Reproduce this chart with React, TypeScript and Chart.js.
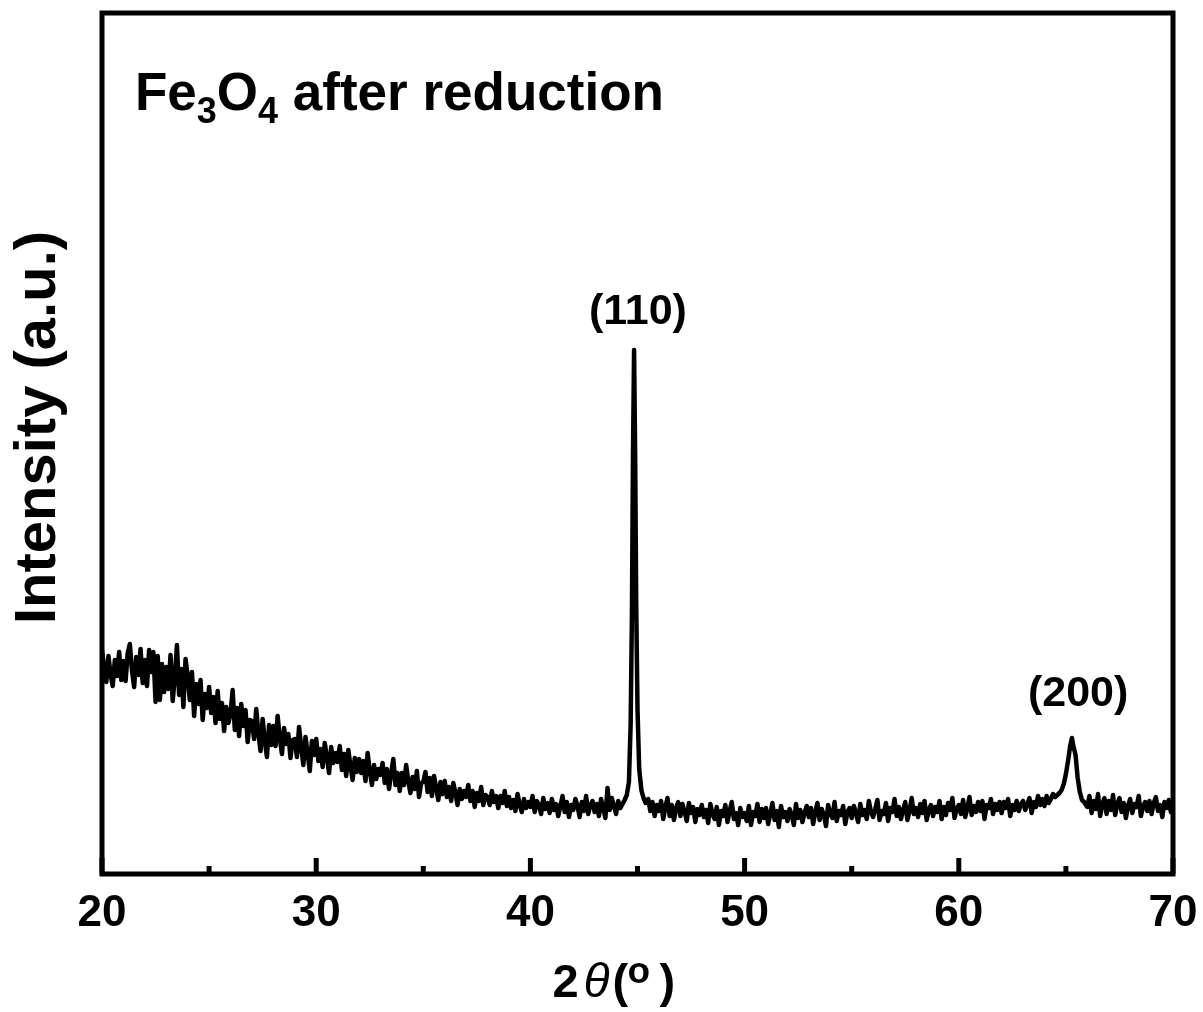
import React, { useEffect, useRef } from 'react';
import { Chart, registerables } from 'chart.js';

Chart.register(...registerables);

const FONT = '"Liberation Sans", Arial, Helvetica, sans-serif';
const W = 1203;
const H = 1012;

const twoTheta: number[] = [
  20, 20.1, 20.2, 20.3, 20.4, 20.5, 20.6, 20.7, 20.8, 20.9,
  21, 21.1, 21.2, 21.3, 21.4, 21.5, 21.6, 21.7, 21.8, 21.9,
  22, 22.1, 22.2, 22.3, 22.4, 22.5, 22.6, 22.7, 22.8, 22.9,
  23, 23.1, 23.2, 23.3, 23.4, 23.5, 23.6, 23.7, 23.8, 23.9,
  24, 24.1, 24.2, 24.3, 24.4, 24.5, 24.6, 24.7, 24.8, 24.9,
  25, 25.1, 25.2, 25.3, 25.4, 25.5, 25.6, 25.7, 25.8, 25.9,
  26, 26.1, 26.2, 26.3, 26.4, 26.5, 26.6, 26.7, 26.8, 26.9,
  27, 27.1, 27.2, 27.3, 27.4, 27.5, 27.6, 27.7, 27.8, 27.9,
  28, 28.1, 28.2, 28.3, 28.4, 28.5, 28.6, 28.7, 28.8, 28.9,
  29, 29.1, 29.2, 29.3, 29.4, 29.5, 29.6, 29.7, 29.8, 29.9,
  30, 30.1, 30.2, 30.3, 30.4, 30.5, 30.6, 30.7, 30.8, 30.9,
  31, 31.1, 31.2, 31.3, 31.4, 31.5, 31.6, 31.7, 31.8, 31.9,
  32, 32.1, 32.2, 32.3, 32.4, 32.5, 32.6, 32.7, 32.8, 32.9,
  33, 33.1, 33.2, 33.3, 33.4, 33.5, 33.6, 33.7, 33.8, 33.9,
  34, 34.1, 34.2, 34.3, 34.4, 34.5, 34.6, 34.7, 34.8, 34.9,
  35, 35.1, 35.2, 35.3, 35.4, 35.5, 35.6, 35.7, 35.8, 35.9,
  36, 36.1, 36.2, 36.3, 36.4, 36.5, 36.6, 36.7, 36.8, 36.9,
  37, 37.1, 37.2, 37.3, 37.4, 37.5, 37.6, 37.7, 37.8, 37.9,
  38, 38.1, 38.2, 38.3, 38.4, 38.5, 38.6, 38.7, 38.8, 38.9,
  39, 39.1, 39.2, 39.3, 39.4, 39.5, 39.6, 39.7, 39.8, 39.9,
  40, 40.1, 40.2, 40.3, 40.4, 40.5, 40.6, 40.7, 40.8, 40.9,
  41, 41.1, 41.2, 41.3, 41.4, 41.5, 41.6, 41.7, 41.8, 41.9,
  42, 42.1, 42.2, 42.3, 42.4, 42.5, 42.6, 42.7, 42.8, 42.9,
  43, 43.1, 43.2, 43.3, 43.4, 43.5, 43.6, 43.7, 43.8, 43.9,
  44, 44.1, 44.2, 44.3, 44.4, 44.5, 44.6, 44.68, 44.74, 44.79, 44.84, 44.89, 44.94, 45, 45.08, 45.18, 45.28, 45.38,
  45.5, 45.6, 45.7, 45.8, 45.9,
  46, 46.1, 46.2, 46.3, 46.4, 46.5, 46.6, 46.7, 46.8, 46.9,
  47, 47.1, 47.2, 47.3, 47.4, 47.5, 47.6, 47.7, 47.8, 47.9,
  48, 48.1, 48.2, 48.3, 48.4, 48.5, 48.6, 48.7, 48.8, 48.9,
  49, 49.1, 49.2, 49.3, 49.4, 49.5, 49.6, 49.7, 49.8, 49.9,
  50, 50.1, 50.2, 50.3, 50.4, 50.5, 50.6, 50.7, 50.8, 50.9,
  51, 51.1, 51.2, 51.3, 51.4, 51.5, 51.6, 51.7, 51.8, 51.9,
  52, 52.1, 52.2, 52.3, 52.4, 52.5, 52.6, 52.7, 52.8, 52.9,
  53, 53.1, 53.2, 53.3, 53.4, 53.5, 53.6, 53.7, 53.8, 53.9,
  54, 54.1, 54.2, 54.3, 54.4, 54.5, 54.6, 54.7, 54.8, 54.9,
  55, 55.1, 55.2, 55.3, 55.4, 55.5, 55.6, 55.7, 55.8, 55.9,
  56, 56.1, 56.2, 56.3, 56.4, 56.5, 56.6, 56.7, 56.8, 56.9,
  57, 57.1, 57.2, 57.3, 57.4, 57.5, 57.6, 57.7, 57.8, 57.9,
  58, 58.1, 58.2, 58.3, 58.4, 58.5, 58.6, 58.7, 58.8, 58.9,
  59, 59.1, 59.2, 59.3, 59.4, 59.5, 59.6, 59.7, 59.8, 59.9,
  60, 60.1, 60.2, 60.3, 60.4, 60.5, 60.6, 60.7, 60.8, 60.9,
  61, 61.1, 61.2, 61.3, 61.4, 61.5, 61.6, 61.7, 61.8, 61.9,
  62, 62.1, 62.2, 62.3, 62.4, 62.5, 62.6, 62.7, 62.8, 62.9,
  63, 63.1, 63.2, 63.3, 63.4, 63.5, 63.6, 63.7, 63.8, 63.9,
  64, 64.1, 64.2, 64.3, 64.4, 64.5, 64.6, 64.7, 64.8, 64.9, 65, 65.1, 65.2, 65.28, 65.35, 65.45, 65.55, 65.65, 65.75, 65.85,
  66, 66.1, 66.2, 66.3, 66.4, 66.5, 66.6, 66.7, 66.8, 66.9,
  67, 67.1, 67.2, 67.3, 67.4, 67.5, 67.6, 67.7, 67.8, 67.9,
  68, 68.1, 68.2, 68.3, 68.4, 68.5, 68.6, 68.7, 68.8, 68.9,
  69, 69.1, 69.2, 69.3, 69.4, 69.5, 69.6, 69.7, 69.8, 69.9,
  70,
];

const intensity: number[] = [
  224, 206, 192, 218, 200, 188, 214, 198, 222, 194,
  213, 193, 221, 230, 203, 187, 217, 199, 225, 191,
  214, 188, 224, 202, 222, 172, 218, 174, 210, 182,
  207, 185, 219, 173, 197, 229, 179, 205, 167, 215,
  198, 174, 202, 158, 190, 170, 194, 154, 180, 166,
  187, 161, 177, 151, 183, 155, 171, 143, 167, 151,
  160, 184, 144, 166, 138, 170, 148, 164, 132, 154,
  153, 135, 165, 141, 123, 155, 133, 117, 149, 129,
  148, 128, 158, 136, 120, 146, 130, 140, 116, 134,
  135, 117, 147, 127, 109, 137, 121, 103, 133, 119,
  135, 113, 125, 107, 131, 117, 101, 127, 111, 121,
  112, 128, 104, 120, 98, 124, 108, 94, 116, 102,
  115, 101, 113, 93, 121, 103, 89, 109, 95, 105,
  99, 111, 91, 105, 85, 101, 115, 89, 101, 83,
  101, 89, 109, 93, 81, 97, 85, 103, 77, 91,
  92, 102, 82, 96, 78, 98, 86, 74, 92, 80,
  93, 77, 87, 73, 91, 81, 69, 85, 75, 83,
  77, 89, 73, 83, 67, 81, 73, 87, 69, 79,
  77, 69, 83, 72, 78, 66, 78, 71, 83, 68,
  77, 66, 74, 63, 80, 69, 62, 75, 66, 72,
  67, 78, 62, 73, 69, 60, 76, 65, 71, 61,
  75, 64, 70, 58, 68, 78, 62, 72, 57, 69,
  64, 75, 68, 57, 72, 63, 78, 60, 69, 73,
  62, 70, 58, 75, 66, 56, 86, 64, 76, 68,
  60, 73, 66, 70, 74, 79, 92, 150, 260, 420, 524, 420, 270, 165, 105, 84, 76, 71,
  75, 63, 72, 58, 69,
  63, 73, 55, 67, 76, 58, 69, 54, 66, 72,
  58, 70, 62, 53, 71, 61, 67, 52, 65, 59,
  69, 57, 64, 51, 70, 60, 55, 67, 49, 63,
  58, 69, 52, 63, 72, 55, 61, 49, 66, 57,
  61, 53, 68, 49, 62, 58, 70, 52, 65, 56,
  66, 50, 60, 71, 54, 63, 47, 68, 57, 62,
  53, 65, 59, 49, 70, 56, 64, 52, 61, 68,
  57, 66, 50, 62, 71, 54, 65, 59, 48, 69,
  60, 56, 72, 53, 63, 59, 68, 50, 62, 66,
  56, 68, 61, 52, 70, 59, 64, 55, 73, 62,
  57, 65, 74, 54, 63, 60, 71, 53, 66, 62,
  75, 58, 67, 55, 64, 72, 54, 63, 76, 60,
  66, 57, 70, 61, 73, 54, 64, 69, 58, 67,
  62, 73, 55, 67, 59, 71, 64, 76, 56, 65,
  69, 60, 74, 57, 66, 77, 59, 68, 62, 72,
  63, 73, 55, 69, 66, 75, 60, 70, 64, 72,
  61, 72, 66, 75, 58, 69, 64, 73, 63, 70,
  73, 64, 70, 76, 61, 72, 67, 78, 69, 75,
  68, 78, 71, 75, 80, 77, 79, 81, 84, 90, 100, 113, 128, 136, 128, 119, 96, 82, 74, 72,
  67, 78, 61, 73, 65, 80, 58, 70, 76, 60,
  73, 64, 79, 59, 70, 76, 62, 71, 56, 68,
  75, 61, 70, 67, 78, 58, 67, 72, 63, 73,
  60, 71, 77, 63, 69, 57, 72, 66, 74, 62,
  67,
];

const xMajorTicks: number[] = [20, 30, 40, 50, 60, 70];
const xMinorTicks: number[] = [25, 35, 45, 55, 65];
const peakLabels: string[] = ['(110)', '(200)'];
const peakLabelX: number[] = [45.02, 65.57];
const peakLabelY: number[] = [550, 168];
const yAxisTitle = 'Intensity (a.u.)';
// sample title pieces: [text, isSubscript]
const sampleTitle: [string, boolean][] = [
  ['Fe', false],
  ['3', true],
  ['O', false],
  ['4', true],
  [' after reduction', false],
];

const decorPlugin = {
  id: 'decor',
  afterDatasetsDraw(chart: any) {
    const { ctx, chartArea: a, scales } = chart;
    const xs = scales.x;
    const ys = scales.y;
    ctx.save();
    ctx.fillStyle = '#000';
    ctx.strokeStyle = '#000';

    // frame
    ctx.lineWidth = 5;
    ctx.strokeRect(a.left, a.top, a.right - a.left, a.bottom - a.top);

    // inward ticks on the bottom axis
    ctx.lineWidth = 5;
    ctx.lineCap = 'butt';
    for (const v of xMajorTicks) {
      const px = xs.getPixelForValue(v);
      ctx.beginPath();
      ctx.moveTo(px, a.bottom);
      ctx.lineTo(px, a.bottom - 16);
      ctx.stroke();
    }
    for (const v of xMinorTicks) {
      const px = xs.getPixelForValue(v);
      ctx.beginPath();
      ctx.moveTo(px, a.bottom);
      ctx.lineTo(px, a.bottom - 8);
      ctx.stroke();
    }

    // peak labels
    ctx.font = `bold 43px ${FONT}`;
    ctx.textAlign = 'center';
    ctx.textBaseline = 'alphabetic';
    peakLabels.forEach((t, i) => {
      ctx.fillText(t, xs.getPixelForValue(peakLabelX[i]), ys.getPixelForValue(peakLabelY[i]));
    });

    // sample title with subscripts
    ctx.textAlign = 'left';
    let tx = a.left + 33;
    const tb = a.top + 97;
    for (const [t, sub] of sampleTitle) {
      ctx.font = sub ? `bold 36px ${FONT}` : `bold 53px ${FONT}`;
      ctx.fillText(t, tx, sub ? tb + 13 : tb);
      tx += ctx.measureText(t).width;
    }

    // y axis title
    ctx.save();
    ctx.translate(a.left - 47, (a.top + a.bottom) / 2 - 16);
    ctx.rotate(-Math.PI / 2);
    ctx.font = `bold 58px ${FONT}`;
    ctx.textAlign = 'center';
    ctx.fillText(yAxisTitle, 0, 0);
    ctx.restore();

    // x axis title: 2θ(°)
    const cx = (a.left + a.right) / 2;
    const xb = a.bottom + 123;
    ctx.textAlign = 'left';
    ctx.font = `bold 47px ${FONT}`;
    ctx.fillText('2', cx - 85, xb);
    ctx.font = `italic 48px ${FONT}`;
    ctx.fillText('\u03B8', cx - 54, xb);
    ctx.font = `bold 47px ${FONT}`;
    ctx.fillText('(', cx - 25, xb);
    ctx.font = `bold 37px ${FONT}`;
    ctx.fillText('o', cx - 10, xb - 14);
    ctx.font = `bold 47px ${FONT}`;
    ctx.fillText(')', cx + 22, xb);

    ctx.restore();
  },
};

export default function App() {
  const canvasRef = useRef<HTMLCanvasElement | null>(null);

  useEffect(() => {
    const canvas = canvasRef.current;
    if (!canvas) return;
    document.body.style.margin = '0';
    const points = twoTheta.map((x, i) => ({ x, y: intensity[i] }));
    const chart = new Chart(canvas, {
      type: 'line',
      data: {
        datasets: [
          {
            data: points,
            borderColor: '#000',
            borderWidth: 4.5,
            pointRadius: 0,
            tension: 0,
            borderJoinStyle: 'round',
            borderCapStyle: 'round',
            fill: false,
          },
        ],
      },
      options: {
        animation: false,
        responsive: false,
        maintainAspectRatio: false,
        devicePixelRatio: 1,
        parsing: false,
        layout: { padding: { left: 102, right: 30, top: 13, bottom: 72 } },
        plugins: {
          legend: { display: false },
          tooltip: { enabled: false },
          title: { display: false },
        },
        scales: {
          x: {
            type: 'linear',
            min: 20,
            max: 70,
            grid: { display: false, drawTicks: false },
            border: { display: false },
            afterFit: (scale: any) => {
              scale.paddingLeft = 0;
              scale.paddingRight = 0;
              scale.height = 66;
            },
            ticks: {
              stepSize: 10,
              autoSkip: false,
              maxRotation: 0,
              padding: 13,
              color: '#000',
              font: { family: FONT, size: 44, weight: 'bold' },
              callback: (v: any) => String(v),
            },
          },
          y: {
            type: 'linear',
            display: false,
            min: 0,
            max: 861,
          },
        },
      },
      plugins: [decorPlugin],
    } as any);
    return () => chart.destroy();
  }, []);

  return (
    <div style={{ position: 'fixed', left: 0, top: 0, width: W, height: H, background: '#fff' }}>
      <canvas ref={canvasRef} width={W} height={H} style={{ width: W, height: H, display: 'block' }} />
    </div>
  );
}
